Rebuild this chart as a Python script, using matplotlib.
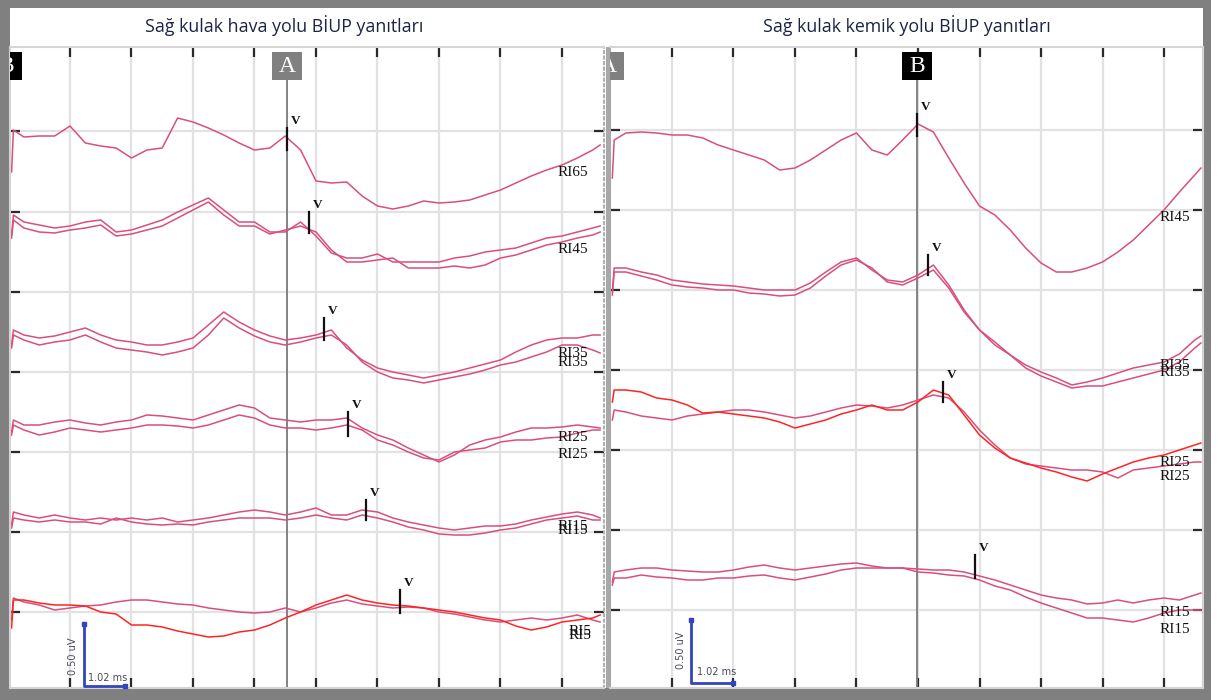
import numpy as np
import matplotlib
matplotlib.use("Agg")
import matplotlib.pyplot as plt
from matplotlib.patches import Rectangle

# sampling times (ms) of the traces, one panel each
t_left = np.concatenate([[0.05, 0.08], np.arange(0.25, 9.51, 0.25), [9.62]])
t_right = np.concatenate([[0.03, 0.06], np.arange(0.25, 9.51, 0.25), [9.6]])

# trace levels (screen rows, 47 = top, 688 = bottom)
# left panel: air conduction
L_RI65 = [172, 130, 137, 136, 136,
          126, 143, 146, 148,
          158, 150, 148, 118,
          122, 128, 135, 143,
          150, 148, 136, 150,
          181, 183, 182, 196,
          206, 209, 206, 201,
          203, 202, 200, 195,
          190, 183, 176, 170,
          165, 158, 150, 145]
L_RI45_a = [235, 215, 222, 225, 228,
            226, 222, 220, 232,
            230, 225, 220, 212,
            205, 198, 210, 222,
            222, 232, 232, 222,
            236, 253, 258, 258,
            254, 262, 262, 262,
            262, 258, 256, 252,
            250, 248, 243, 238,
            236, 232, 228, 226]
L_RI45_b = [238, 220, 228, 232, 233,
            230, 228, 225, 236,
            234, 230, 226, 218,
            210, 202, 215, 226,
            226, 234, 230, 226,
            232, 250, 262, 262,
            260, 258, 268, 268,
            268, 266, 268, 265,
            258, 255, 250, 245,
            242, 238, 235, 232]
L_RI35_a = [345, 330, 335, 338, 336,
            332, 328, 335, 340,
            342, 345, 345, 342,
            338, 325, 312, 322,
            330, 336, 340, 338,
            335, 330, 348, 360,
            368, 372, 375, 378,
            375, 372, 368, 364,
            360, 352, 345, 340,
            338, 338, 335, 335]
L_RI35_b = [348, 335, 340, 345, 342,
            340, 335, 342, 348,
            350, 352, 355, 352,
            348, 335, 318, 328,
            336, 342, 345, 342,
            338, 335, 345, 362,
            372, 378, 380, 383,
            380, 377, 374, 370,
            365, 362, 357, 352,
            345, 345, 350, 353]
L_RI25_a = [432, 420, 425, 425, 422,
            420, 423, 425, 422,
            420, 415, 416, 418,
            420, 415, 410, 405,
            408, 418, 420, 422,
            420, 420, 418, 428,
            435, 440, 448, 455,
            462, 455, 445, 440,
            437, 432, 428, 428,
            427, 425, 427, 428]
L_RI25_b = [435, 425, 430, 435, 432,
            428, 430, 432, 430,
            428, 425, 425, 426,
            428, 425, 420, 415,
            418, 425, 428, 428,
            430, 428, 425, 430,
            440, 445, 452, 458,
            460, 452, 450, 448,
            442, 440, 440, 438,
            437, 433, 430, 430]
L_RI15_a = [525, 512, 515, 518, 515,
            518, 520, 518, 520,
            518, 520, 518, 522,
            520, 518, 515, 512,
            510, 512, 515, 512,
            508, 515, 515, 510,
            512, 518, 522, 525,
            528, 530, 528, 526,
            526, 524, 520, 517,
            514, 512, 515, 518]
L_RI15_b = [528, 518, 520, 522, 520,
            522, 522, 524, 518,
            522, 524, 525, 524,
            525, 522, 520, 518,
            518, 518, 520, 518,
            515, 518, 520, 515,
            518, 522, 527, 530,
            534, 535, 535, 533,
            530, 528, 524, 520,
            518, 516, 520, 520]
L_RI5_red = [628, 600, 600, 603, 605,
             605, 606, 612, 614,
             625, 625, 627, 631,
             634, 637, 636, 632,
             630, 625, 618, 612,
             605, 600, 595, 600,
             603, 605, 606, 608,
             610, 612, 615, 618,
             620, 626, 630, 627,
             622, 620, 618, 615]
L_RI5_pink = [620, 598, 602, 605, 610,
              608, 606, 605, 602,
              600, 600, 602, 604,
              605, 608, 610, 612,
              613, 612, 608, 612,
              608, 603, 600, 604,
              606, 608, 607, 608,
              612, 614, 617, 620,
              622, 620, 618, 620,
              618, 615, 620, 622]

# right panel: bone conduction
R_RI45 = [178, 140, 133, 132, 133,
          135, 135, 138, 145,
          150, 155, 160, 170,
          168, 160, 150, 140,
          133, 150, 155, 140,
          124, 132, 158, 183,
          206, 215, 230, 248,
          263, 272, 272, 268,
          262, 252, 240, 225,
          210, 192, 175, 168]
R_RI35_a = [292, 268, 268, 272, 275,
            280, 282, 284, 285,
            286, 288, 290, 290,
            290, 283, 272, 262,
            258, 270, 280, 282,
            275, 265, 285, 310,
            330, 342, 355, 365,
            372, 378, 385, 382,
            378, 373, 368, 365,
            362, 354, 340, 336]
R_RI35_b = [295, 272, 272, 276, 280,
            285, 287, 288, 290,
            290, 293, 294, 296,
            295, 288, 276, 265,
            260, 268, 282, 285,
            278, 270, 288, 312,
            330, 345, 355, 368,
            376, 382, 388, 386,
            386, 382, 378, 374,
            370, 362, 348, 343]
R_RI25_red = [402, 390, 390, 392, 398,
              400, 405, 413, 412,
              414, 416, 418, 422,
              428, 424, 420, 414,
              410, 405, 410, 410,
              402, 390, 395, 415,
              435, 448, 458, 463,
              468, 472, 477, 481,
              474, 468, 462, 458,
              455, 450, 445, 443]
R_RI25_pink = [420, 410, 412, 416, 418,
               420, 416, 414, 412,
               410, 410, 412, 415,
               418, 416, 412, 408,
               405, 406, 408, 405,
               400, 395, 398, 412,
               430, 445, 458, 464,
               466, 468, 470, 470,
               472, 478, 470, 468,
               466, 464, 462, 462]
R_RI15_a = [582, 572, 570, 568, 568,
            570, 571, 572, 572,
            570, 567, 565, 568,
            570, 568, 566, 564,
            563, 566, 568, 568,
            569, 570, 570, 572,
            576, 580, 585, 590,
            595, 598, 600, 604,
            603, 600, 603, 600,
            598, 600, 595, 593]
R_RI15_b = [585, 578, 578, 575, 577,
            578, 580, 580, 578,
            578, 576, 575, 578,
            580, 577, 574, 570,
            568, 568, 568, 568,
            572, 573, 575, 576,
            580, 586, 590, 597,
            603, 608, 613, 618,
            618, 620, 622, 618,
            613, 610, 610, 610]

# wave V marks: time, top row, bottom row
left_v_t = [4.53, 4.89, 5.13, 5.52, 5.81, 6.37]
left_v_top = [128, 212, 318, 412, 500, 590]
left_v_bot = [150, 233, 340, 436, 520, 613]
right_v_t = [4.98, 5.16, 5.41, 5.93]
right_v_top = [114, 255, 382, 555]
right_v_bot = [136, 275, 402, 578]

# trace names at the right end
left_names = ["RI65", "RI45", "RI35", "RI35", "RI25", "RI25", "RI15", "RI15", "RI5", "RI5"]
left_name_t = [8.93, 8.93, 8.93, 8.93, 8.93, 8.93, 8.93, 8.93, 9.1, 9.1]
left_name_y = [173, 250, 354, 363, 438, 455, 527, 531, 632, 636]
right_names = ["RI45", "RI35", "RI35", "RI25", "RI25", "RI15", "RI15"]
right_name_t = [8.93] * 7
right_name_y = [218, 366, 373, 463, 477, 613, 630]

PINK = "#d94f7c"
RED = "#ff2424"

fig = plt.figure(figsize=(12.18, 7.0), dpi=100, facecolor="white")

# frame and title band
bg = fig.add_axes([0, 0, 1, 1])
bg.set_xlim(0, 1218)
bg.set_ylim(700, 0)
bg.axis("off")
bg.add_patch(Rectangle((0, 0), 1211, 700, fc="#808080", ec="none"))
bg.add_patch(Rectangle((10, 8), 1193, 680, fc="white", ec="none"))
bg.add_patch(Rectangle((606, 47), 3, 641, fc="#a8a8a8", ec="none"))
bg.text(284, 26, "Sağ kulak hava yolu BİUP yanıtları", ha="center", va="center",
        fontsize=12.8, family="Open Sans", color="#1c2444")
bg.text(907, 26, "Sağ kulak kemik yolu BİUP yanıtları", ha="center", va="center",
        fontsize=12.8, family="Open Sans", color="#1c2444")


def make_panel(x0, width, xlim, grid_rows):
    ax = fig.add_axes([x0 / 1218, 12 / 700, width / 1218, 641 / 700])
    ax.set_facecolor("white")
    ax.set_xlim(xlim)
    ax.set_ylim(688, 47)
    ax.set_xticks(range(1, 10))
    ax.set_yticks(grid_rows)
    ax.set_axisbelow(True)
    ax.grid(True, color="#e2e2e2", lw=1.6)
    ax.tick_params(direction="in", length=7, width=1.6, color="#2a2a2a",
                   top=True, right=True, labelbottom=False, labelleft=False)
    for s in ax.spines.values():
        s.set_color("#d4d4d4")
        s.set_linewidth(1.5)
    return ax


def cursor_box(ax, t, letter, fc, draw_line=True):
    top = (688 - 80) / 641
    if draw_line:
        ax.axvline(t, ymin=0, ymax=top, color="#7a7a7a", lw=1.3, zorder=1)
    ax.add_patch(Rectangle((t - 0.245, top), 0.49, 28 / 641, fc=fc, ec="none",
                           transform=ax.get_xaxis_transform(), clip_on=True, zorder=3))
    ax.text(t, top + 14 / 641, letter, transform=ax.get_xaxis_transform(), ha="center",
            va="center", color="white", fontsize=17, family="Liberation Serif",
            clip_on=True, zorder=4)


def v_marks(ax, vt, vtop, vbot):
    for t, a, b in zip(vt, vtop, vbot):
        ax.plot([t, t], [a, b], color="#111111", lw=1.6, zorder=5)
        ax.text(t + 0.06, a - 1, "V", ha="left", va="bottom", fontsize=9.5,
                family="Liberation Serif", fontweight="bold", color="#111111")


def names(ax, labels, lt, ly):
    for s, t, y in zip(labels, lt, ly):
        ax.text(t, y, s, ha="left", va="center", fontsize=11,
                family="Liberation Serif", color="#111111", zorder=6)


def scale_bar(ax, t0, y0, y1, t1, tx, ty, mx, my):
    ax.plot([t0, t0, t1], [y0, y1, y1], color="#3344c0", lw=2, zorder=6, clip_on=False,
            solid_capstyle="butt")
    ax.plot([t0, t1], [y0, y1], ls="none", marker="s", ms=3, color="#3344c0", zorder=6,
            clip_on=False)
    ax.text(tx, ty, "0.50 uV", rotation=90, ha="center", va="center", fontsize=7,
            color="#4a4a5a")
    ax.text(mx, my, "1.02 ms", ha="left", va="center", fontsize=7, color="#4a4a5a")


# left panel
axl = make_panel(10, 594, (0.0244, 9.683), [131, 212, 292, 372, 452, 532, 612])
axl.spines["right"].set_linestyle(":")
axl.spines["right"].set_color("#b0b0b0")
for y, c in [(L_RI65, PINK), (L_RI45_a, PINK), (L_RI45_b, PINK), (L_RI35_a, PINK),
             (L_RI35_b, PINK), (L_RI25_a, PINK), (L_RI25_b, PINK), (L_RI15_a, PINK),
             (L_RI15_b, PINK), (L_RI5_pink, PINK), (L_RI5_red, RED)]:
    axl.plot(t_left, y, color=c, lw=1.1, zorder=2)
cursor_box(axl, -0.03, "B", "black", draw_line=False)
cursor_box(axl, 4.53, "A", "#808080")
v_marks(axl, left_v_t, left_v_top, left_v_bot)
names(axl, left_names, left_name_t, left_name_y)
scale_bar(axl, 1.23, 624, 686, 1.895, 1.05, 656, 1.29, 678)

# right panel
axr = make_panel(610, 593, (-0.008, 9.634), [130, 210, 290, 370, 450, 530, 610])
axr.spines["left"].set_color("#a8a8a8")
for y, c in [(R_RI45, PINK), (R_RI35_a, PINK), (R_RI35_b, PINK), (R_RI25_pink, PINK),
             (R_RI25_red, RED), (R_RI15_a, PINK), (R_RI15_b, PINK)]:
    axr.plot(t_right, y, color=c, lw=1.1, zorder=2)
cursor_box(axr, -0.03, "A", "#808080", draw_line=False)
cursor_box(axr, 4.98, "B", "black")
v_marks(axr, right_v_t, right_v_top, right_v_bot)
names(axr, right_names, right_name_t, right_name_y)
scale_bar(axr, 1.31, 620, 683, 1.99, 1.15, 650, 1.41, 672)

fig.savefig("out.png", dpi=100, facecolor="white")
